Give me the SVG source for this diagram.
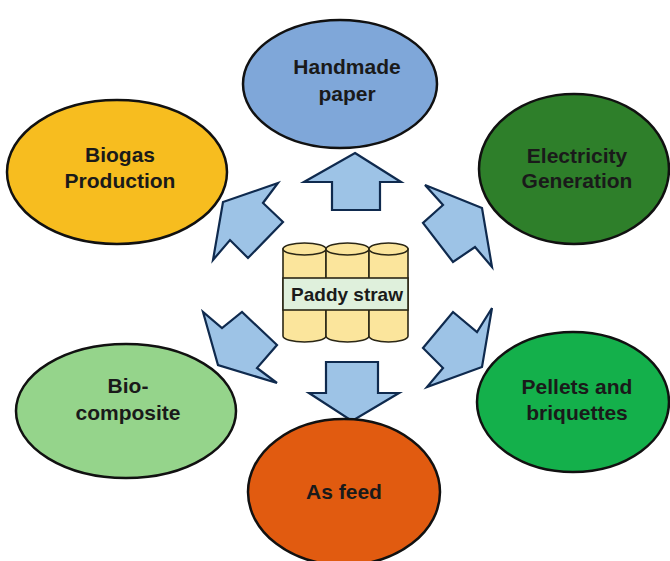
<svg xmlns="http://www.w3.org/2000/svg" width="670" height="561" viewBox="0 0 670 561">
  <style>
    .node ellipse { stroke: #111; stroke-width: 2.5; }
    .label { font-family: "Liberation Sans", Arial, sans-serif; font-weight: bold; font-size: 21px; fill: #1a1a1a; text-anchor: middle; }
    .arrow { fill: #9dc3e6; stroke: #0f2a4e; stroke-width: 2.2; stroke-linejoin: miter; }
    .can { fill: #fbe59c; stroke: #2b2716; stroke-width: 1.6; }
    .band { fill: #dff0dc; stroke: #2b2716; stroke-width: 1.6; }
  </style>
  <rect width="670" height="561" fill="#ffffff"/>

  <!-- outgoing arrows from the centre -->
  <g id="connectors">
    <polygon class="arrow" points="355,153 401,182 380,182 380,210 332,210 332,182 304,182"/>
    <polygon class="arrow" points="278,183 223,202 213,260 230,240 248,258 283,222 263,203"/>
    <polygon class="arrow" points="425,185 482,208 492,267 475,247 453,262 423,223 443,205"/>
    <polygon class="arrow" points="203,312 218,365 277,383 257,368 277,345 242,312 222,328"/>
    <polygon class="arrow" points="492,308 482,367 427,387 443,368 423,348 453,312 477,332"/>
    <polygon class="arrow" points="326,362 378,362 378,393 399,393 352,421 309,393 326,393"/>
  </g>

  <!-- centre: bundle of straw -->
  <g id="paddy-straw">
    <path class="can" d="M283,249 V336 A21.5,6 0 0 0 326,336 V249 Z"/>
    <path class="can" d="M326,249 V336 A21.5,6 0 0 0 369,336 V249 Z"/>
    <path class="can" d="M369,249 V336 A19.5,6 0 0 0 408,336 V249 Z"/>
    <ellipse class="can" cx="304.5" cy="249" rx="21.5" ry="6"/>
    <ellipse class="can" cx="347.5" cy="249" rx="21.5" ry="6"/>
    <ellipse class="can" cx="388.5" cy="249" rx="19.5" ry="6"/>
    <rect class="band" x="283" y="278" width="125" height="32"/>
    <text class="label" x="347" y="301" style="font-size:19px">Paddy straw</text>
  </g>

  <g id="handmade-paper" class="node">
    <ellipse cx="340" cy="84" rx="97" ry="64" fill="#7fa7d9"/>
    <text class="label" x="347" y="74">Handmade</text>
    <text class="label" x="347" y="101">paper</text>
  </g>

  <g id="biogas" class="node">
    <ellipse cx="117" cy="172" rx="110" ry="72" fill="#f7bd1f"/>
    <text class="label" x="120" y="162">Biogas</text>
    <text class="label" x="120" y="188">Production</text>
  </g>

  <g id="electricity" class="node">
    <ellipse cx="574" cy="169" rx="95" ry="75" fill="#2e7f2a"/>
    <text class="label" x="577" y="163">Electricity</text>
    <text class="label" x="577" y="188">Generation</text>
  </g>

  <g id="bio-composite" class="node">
    <ellipse cx="126" cy="411" rx="110" ry="67" fill="#95d48b"/>
    <text class="label" x="128" y="393">Bio-</text>
    <text class="label" x="128" y="420">composite</text>
  </g>

  <g id="pellets" class="node">
    <ellipse cx="573" cy="402" rx="96" ry="70" fill="#14b04b"/>
    <text class="label" x="577" y="394">Pellets and</text>
    <text class="label" x="577" y="420">briquettes</text>
  </g>

  <g id="as-feed" class="node">
    <ellipse cx="344" cy="492" rx="96" ry="73" fill="#e15b10"/>
    <text class="label" x="344" y="499">As feed</text>
  </g>
</svg>
